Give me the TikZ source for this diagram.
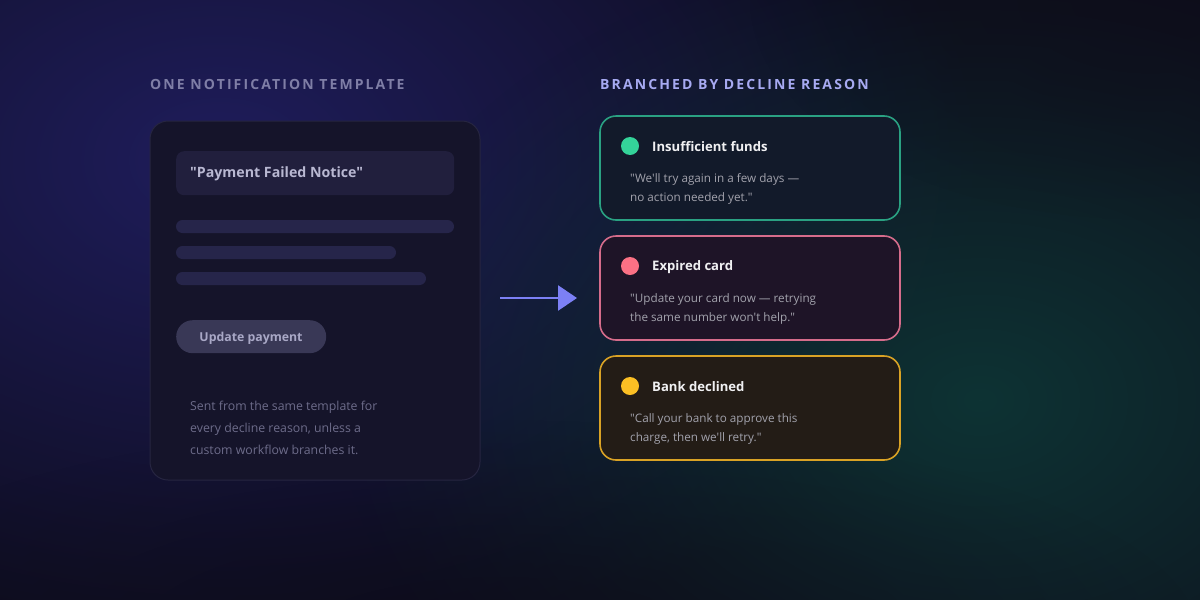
\documentclass[tikz,border=0pt]{standalone}
\usepackage{fontspec}
\setmainfont{Open Sans}[Ligatures=TeXOff]
\newfontfamily\capsfont{Open Sans}[LetterSpace=15]
\usetikzlibrary{fadings,arrows.meta}
\definecolor{bgbase}{HTML}{0D0C1A}
\definecolor{glowblue}{HTML}{1F1D5C}
\definecolor{glowteal}{HTML}{0E3334}
\definecolor{lefttitle}{HTML}{7F7EA6}
\definecolor{righttitle}{HTML}{A7AAF2}
\definecolor{cardfill}{HTML}{15142A}
\definecolor{cardborder}{HTML}{262541}
\definecolor{headfill}{HTML}{211F3D}
\definecolor{headtext}{HTML}{B9B8D2}
\definecolor{barfill}{HTML}{26254A}
\definecolor{btnfill}{HTML}{393856}
\definecolor{btntext}{HTML}{A9A8C6}
\definecolor{foottext}{HTML}{6D6C8A}
\definecolor{arrowcol}{HTML}{7C80F5}
\definecolor{gborder}{HTML}{2AA182}
\definecolor{pborder}{HTML}{D56C8B}
\definecolor{aborder}{HTML}{D9A225}
\definecolor{gfill}{HTML}{121A2A}
\definecolor{pfill}{HTML}{1E1427}
\definecolor{afill}{HTML}{231C16}
\definecolor{gdot}{HTML}{34D399}
\definecolor{pdot}{HTML}{FB7185}
\definecolor{adot}{HTML}{FBBF24}
\definecolor{titletext}{HTML}{F0F0F2}
\definecolor{quotetext}{HTML}{A2A2AC}
\tikzfading[name=glowfade, inner color=transparent!0, outer color=transparent!100]
\tikzset{
  captitle/.style={anchor=west, inner sep=0pt, font=\capsfont\bfseries\fontsize{14}{16}\selectfont},
  bar/.style={fill=barfill, rounded corners=6.5pt},
  rcard/.style={line width=1.6pt, rounded corners=16pt},
  dotmark/.style={circle, minimum size=18pt, inner sep=0pt},
  rtitle/.style={anchor=west, inner sep=0pt, text=titletext, font=\bfseries\fontsize{13.1}{15}\selectfont},
  rquote/.style={anchor=north west, inner sep=0pt, text=quotetext, align=left, font=\fontsize{11.7}{19}\selectfont},
}
\begin{document}
\begin{tikzpicture}[x=1pt,y=-1pt]
\useasboundingbox (0,0) rectangle (1200,600);
% background
\fill[bgbase] (0,0) rectangle (1200,600);
\fill[glowblue, opacity=1, path fading=glowfade] (220,160) ellipse (760 and 520);
\fill[glowteal, opacity=1, path fading=glowfade] (980,400) ellipse (640 and 460);
\fill[bgbase, opacity=0.7, path fading=glowfade] (500,640) ellipse (700 and 220);
\fill[bgbase, opacity=0.5, path fading=glowfade] (1150,0) ellipse (400 and 220);

% titles
\node[captitle, text=lefttitle] (ltitle) at (150,84) {ONE NOTIFICATION TEMPLATE};
\node[captitle, text=righttitle] (rtitle) at (600,84) {BRANCHED BY DECLINE REASON};

% left card
\draw[fill=cardfill, draw=cardborder, line width=1pt, rounded corners=18pt] (150,121) rectangle (480,480);
\node[fill=headfill, rounded corners=8pt, minimum width=278pt, minimum height=44pt, inner sep=0pt, anchor=north west] (head) at (176,151) {};
\node[anchor=west, inner sep=0pt, text=headtext, font=\bfseries\fontsize{14.2}{17}\selectfont] (headlbl) at (190,174) {"Payment Failed Notice"};
\fill[bar] (176,220) rectangle (454,233);
\fill[bar] (176,246) rectangle (396,259);
\fill[bar] (176,272) rectangle (426,285);
\node[fill=btnfill, rounded corners=16.5pt, minimum width=150pt, minimum height=33pt, inner sep=0pt, anchor=north west] (btn) at (176,320) {};
\node[text=btntext, inner sep=0pt, font=\bfseries\fontsize{12.3}{15}\selectfont] (btnlbl) at (251,338) {Update payment};
\node[anchor=north west, inner sep=0pt, text=foottext, align=left, font=\fontsize{12.3}{22}\selectfont] (foot) at (190,401) {Sent from the same template for\\every decline reason, unless a\\custom workflow branches it.};

% arrow
\coordinate (astart) at (500,298);
\coordinate (aend) at (577,298);
\draw[arrowcol, line width=2.6pt, -{Triangle[length=19pt, width=25pt]}] (astart) -- (aend);

% right cards
\draw[rcard, fill=gfill, draw=gborder] (600,116) rectangle (900,220);
\node[dotmark, fill=gdot] (d1) at (630,146) {};
\node[rtitle] (t1) at (652,147) {Insufficient funds};
\node[rquote] (q1) at (630,173) {"We'll try again in a few days —\\no action needed yet."};

\draw[rcard, fill=pfill, draw=pborder] (600,236) rectangle (900,340);
\node[dotmark, fill=pdot] (d2) at (630,266) {};
\node[rtitle] (t2) at (652,267) {Expired card};
\node[rquote] (q2) at (630,293) {"Update your card now — retrying\\the same number won't help."};

\draw[rcard, fill=afill, draw=aborder] (600,356) rectangle (900,460);
\node[dotmark, fill=adot] (d3) at (630,386) {};
\node[rtitle] (t3) at (652,387) {Bank declined};
\node[rquote] (q3) at (630,413) {"Call your bank to approve this\\charge, then we'll retry."};
\end{tikzpicture}
\end{document}
